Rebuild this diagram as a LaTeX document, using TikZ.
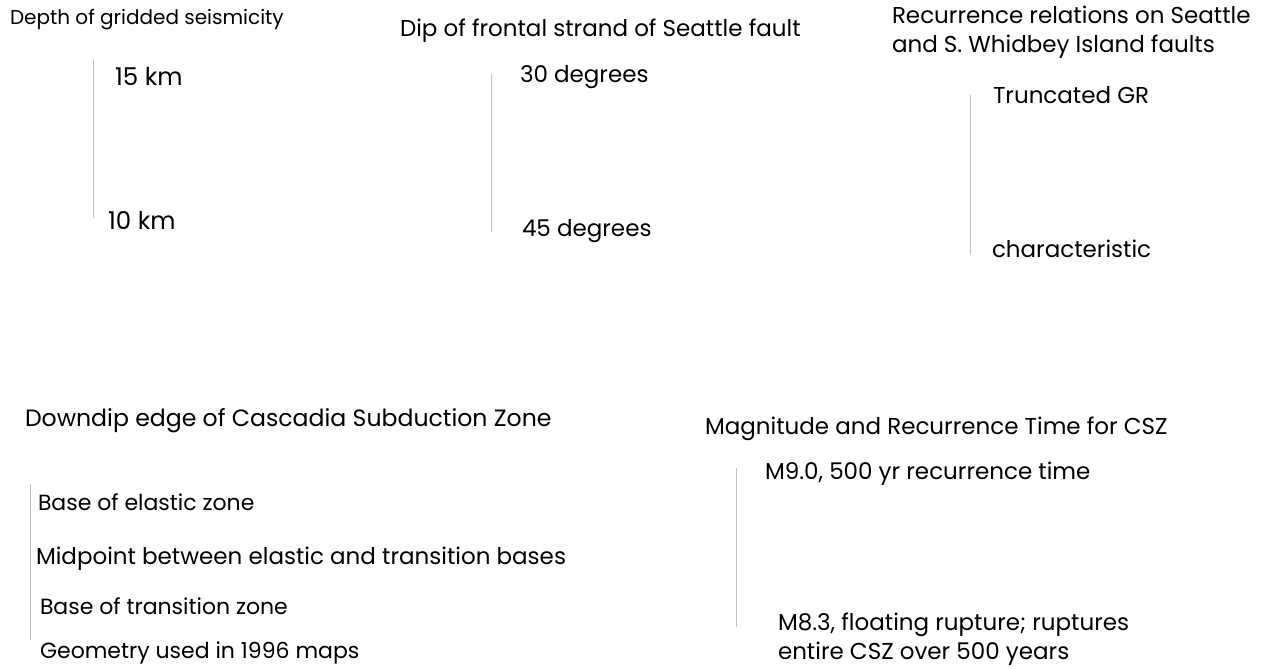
\documentclass[tikz,border=0pt]{standalone}
\usepackage{fontspec}
\setmainfont{Poppins}
\usetikzlibrary{positioning}
\newcommand*{\lnode}[3]{\node[lbl,anchor=west] (#1) at (#2) {#3};}
\tikzset{
  lbl/.style={inner sep=0pt,outer sep=0pt,font=\fontsize{23}{28.5}\selectfont},
  head/.style={lbl,font=\fontsize{20}{24}\selectfont},
  smalllbl/.style={lbl,font=\fontsize{22}{26}\selectfont},
  biglbl/.style={lbl,font=\fontsize{24.5}{28}\selectfont},
  bar/.style={draw=black!25,line width=0.9pt},
}
\begin{document}
\begin{tikzpicture}[x=1pt,y=-1pt]
\useasboundingbox (0,0) rectangle (1264,669);
% Depth of gridded seismicity
\node[head,anchor=west] (depth) at (10,20) {Depth of gridded seismicity};
\node[biglbl,anchor=west] (km15) at (115,76) {15 km};
\node[biglbl,anchor=west] (km10) at (108,220) {10 km};
\coordinate (d1) at (93,60);
\coordinate (d2) at (93,218);
\draw[bar] (d1) -- (d2);
% Dip of frontal strand
\lnode{dip}{400,31}{Dip of frontal strand of Seattle fault}
\lnode{deg30}{520,77}{30 degrees}
\lnode{deg45}{522,231}{45 degrees}
\coordinate (p1) at (491,74);
\coordinate (p2) at (491,232);
\draw[bar] (p1) -- (p2);
% Recurrence relations
\node[lbl,anchor=west,align=left] (recur) at (892,32) {Recurrence relations on Seattle\\and S. Whidbey Island faults};
\lnode{trunc}{993,95}{Truncated GR}
\lnode{charac}{992,249}{characteristic}
\coordinate (r1) at (970,95);
\coordinate (r2) at (970,255);
\draw[bar] (r1) -- (r2);
% Downdip edge of CSZ
\node[lbl,anchor=west,font=\fontsize{23.6}{28}\selectfont] (downdip) at (25,421) {Downdip edge of Cascadia Subduction Zone};
\node[smalllbl,anchor=west] (elastic) at (38,502) {Base of elastic zone};
\lnode{midpt}{36,559}{Midpoint between elastic and transition bases}
\node[smalllbl,anchor=west] (trans) at (40,606) {Base of transition zone};
\node[smalllbl,anchor=west] (geom) at (40,653) {Geometry used in 1996 maps};
\coordinate (e1) at (30,484);
\coordinate (e2) at (30,640);
\draw[bar] (e1) -- (e2);
% Magnitude and recurrence for CSZ
\lnode{magn}{705,429}{Magnitude and Recurrence Time for CSZ}
\lnode{mnine}{765,474}{M9.0, 500 yr recurrence time}
\node[lbl,anchor=west,align=left] (meight) at (778,639) {M8.3, floating rupture; ruptures\\entire CSZ over 500 years};
\coordinate (m1) at (736,468);
\coordinate (m2) at (736,627);
\draw[bar] (m1) -- (m2);
\end{tikzpicture}
\end{document}
